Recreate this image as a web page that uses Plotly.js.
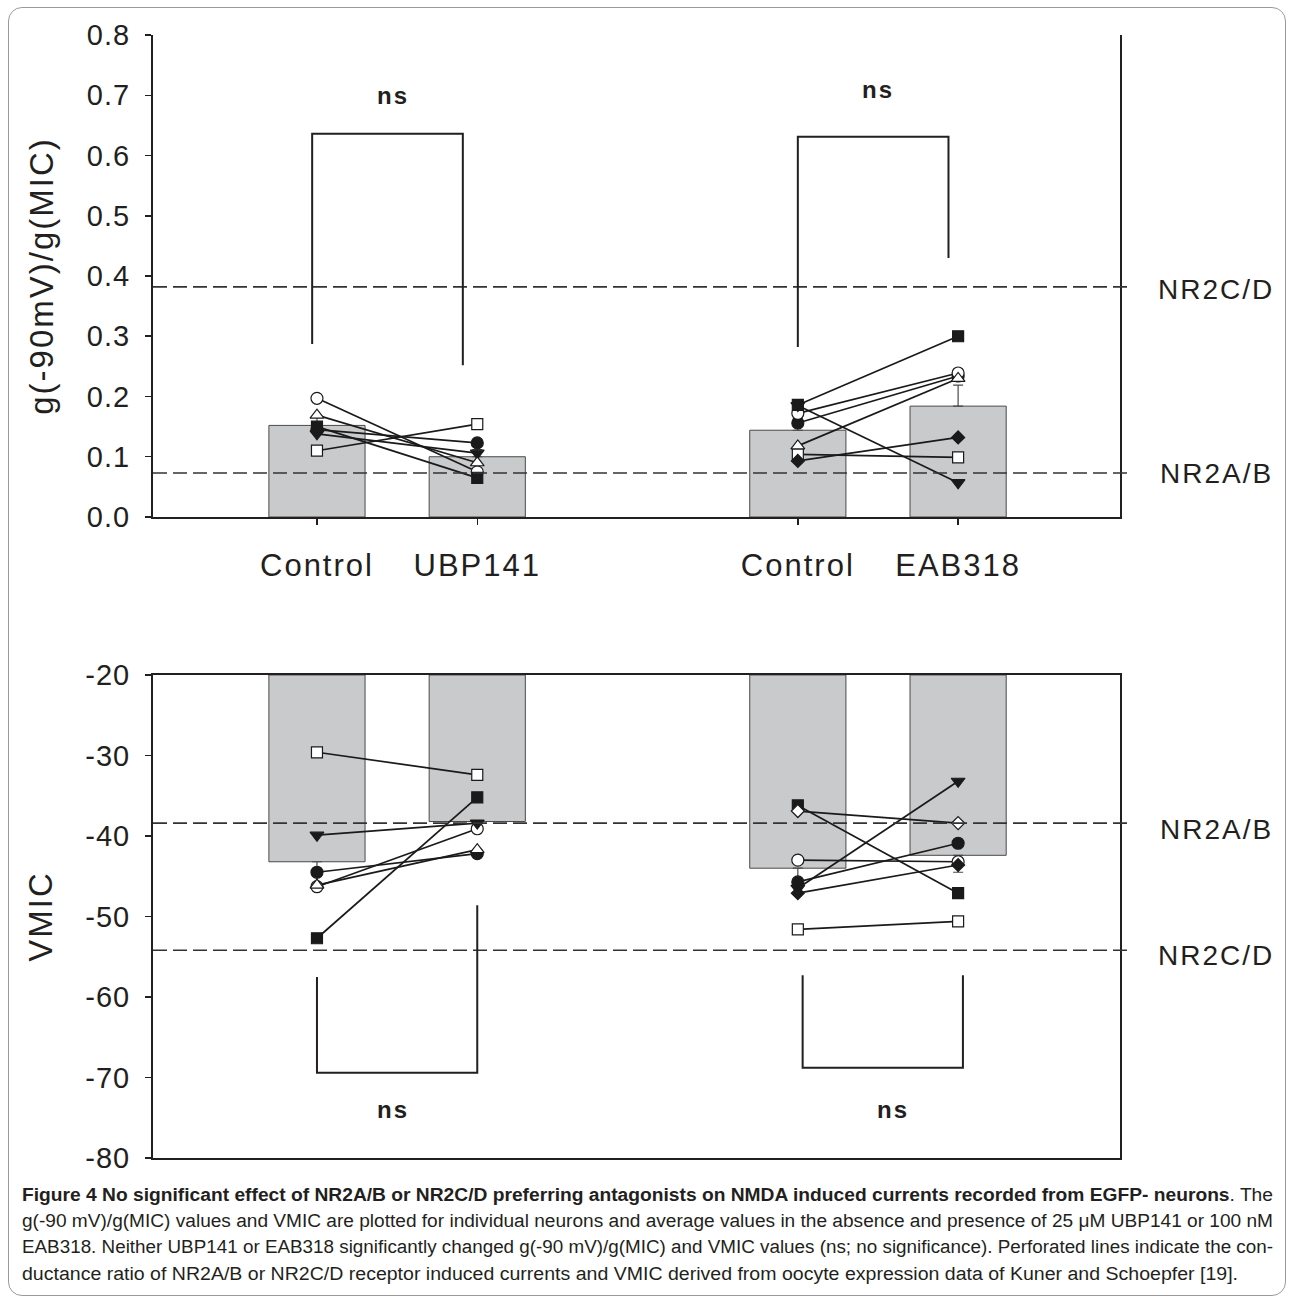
<!DOCTYPE html>
<html>
<head>
<meta charset="utf-8">
<script src="https://cdn.plot.ly/plotly-3.0.1.min.js"></script>
<style>
html,body{margin:0;padding:0;background:#ffffff;}
#chart{position:absolute;left:0;top:0;width:1292px;height:1303px;}
#frame{position:absolute;left:8px;top:7px;width:1278px;height:1289px;border:1.5px solid #9a9a9a;border-radius:14px;box-sizing:border-box;pointer-events:none;z-index:5;}
.cap{position:absolute;left:22px;white-space:nowrap;font-family:"Liberation Sans Narrow","Liberation Sans",Arial,sans-serif;font-size:18px;line-height:20px;color:#231f20;transform-origin:0 50%;}
#chart .xtick text{letter-spacing:2px;}
#chart .ytick text,#chart .y2tick text{letter-spacing:1px;}
#chart text.ytitle,#chart text.y2title{letter-spacing:2px;}
#chart .annotation-text{letter-spacing:2px;}
</style>
</head>
<body>
<div id="chart"></div>
<div id="frame"></div>
<script>
// ---------- data ----------
const xPos = [1, 2, 4, 5];
const groupLabels = ['Control', 'UBP141', 'Control', 'EAB318'];

// axis ticks
const gTickVals = [0, 0.1, 0.2, 0.3, 0.4, 0.5, 0.6, 0.7, 0.8];
const gTickText = ['0.0', '0.1', '0.2', '0.3', '0.4', '0.5', '0.6', '0.7', '0.8'];
const vTickVals = [-80, -70, -60, -50, -40, -30, -20];
const vTickText = ['-80', '-70', '-60', '-50', '-40', '-30', '-20'];

// mean bars
const gMeans = [0.152, 0.100, 0.144, 0.184];
const gErrUp = [0.015, 0.012, 0.020, 0.035];
const vMeans = [-43.2, -38.2, -44.0, -42.4];
const vErrDown = [3.0, 1.0, 2.0, 2.1];
const vBarBase = -20;

// reference levels (oocyte data)
const gRefLevels = [0.073, 0.382];
const gRefNames = ['NR2A/B', 'NR2C/D'];
const gRefLabelY = [0.073, 0.377];
const vRefLevels = [-38.4, -54.2];
const vRefNames = ['NR2A/B', 'NR2C/D'];
const vRefLabelY = [-39.2, -54.8];

// individual neurons, UBP141 experiment (Control -> UBP141), g(-90mV)/g(MIC)
const gUbpSymbols = ['circle', 'circle', 'triangle-down', 'square', 'triangle-up', 'square'];
const gUbpFilled  = [false, true, true, true, false, false];
const gUbpControl = [0.197, 0.145, 0.138, 0.150, 0.169, 0.110];
const gUbpDrug    = [0.075, 0.123, 0.106, 0.065, 0.090, 0.154];

// individual neurons, EAB318 experiment (Control -> EAB318), g(-90mV)/g(MIC)
const gEabSymbols = ['circle', 'circle', 'triangle-down', 'square', 'square', 'triangle-up', 'diamond'];
const gEabFilled  = [true, false, true, true, false, false, true];
const gEabControl = [0.156, 0.172, 0.185, 0.186, 0.104, 0.118, 0.093];
const gEabDrug    = [0.234, 0.239, 0.057, 0.300, 0.099, 0.230, 0.132];

// individual neurons, UBP141 experiment, VMIC
const vUbpSymbols = ['circle', 'triangle-down', 'circle', 'triangle-up', 'square', 'square'];
const vUbpFilled  = [false, true, true, false, false, true];
const vUbpControl = [-46.3, -39.9, -44.5, -46.1, -29.6, -52.7];
const vUbpDrug    = [-39.1, -38.4, -42.2, -41.7, -32.4, -35.2];

// individual neurons, EAB318 experiment, VMIC
const vEabSymbols = ['square', 'diamond', 'circle', 'circle', 'triangle-down', 'diamond', 'square'];
const vEabFilled  = [true, false, false, true, true, true, false];
const vEabControl = [-36.2, -36.9, -43.0, -45.7, -46.5, -47.1, -51.6];
const vEabDrug    = [-47.1, -38.4, -43.2, -40.9, -33.2, -43.6, -50.6];

// significance brackets: [xLeft, xRight, yLeftEnd, yRightEnd, yBar]
const gBrackets = [[0.97, 1.91, 0.287, 0.252, 0.636], [4.0, 4.94, 0.282, 0.430, 0.631]];
const vBrackets = [[1.0, 2.0, -57.5, -48.6, -69.4], [4.03, 5.03, -57.3, -57.3, -68.8]];
const gSigText = [[1.474, 0.700, 'ns'], [4.50, 0.709, 'ns']];
const vSigText = [[1.474, -74.0, 'ns'], [4.594, -74.0, 'ns']];

// ---------- build ----------
const INK = '#231f20';
const traces = [];
const shapes = [];
const annotations = [];

function markerSize(sym) {
  if (sym === 'square') return 11;
  if (sym === 'circle') return 12;
  if (sym === 'diamond') return 10;
  return 12;
}

// bars
traces.push({type: 'bar', x: xPos, y: gMeans, width: 0.6, xaxis: 'x', yaxis: 'y',
  marker: {color: '#c9cacc', line: {color: '#4a4a4a', width: 1}}, hoverinfo: 'skip', showlegend: false});
traces.push({type: 'bar', x: xPos, y: vMeans.map(v => v - vBarBase), base: vBarBase, width: 0.6, xaxis: 'x2', yaxis: 'y2',
  marker: {color: '#c9cacc', line: {color: '#4a4a4a', width: 1}}, hoverinfo: 'skip', showlegend: false});

// error bars
traces.push({type: 'scatter', mode: 'markers', x: xPos, y: gMeans, xaxis: 'x', yaxis: 'y',
  marker: {opacity: 0, size: 1},
  error_y: {type: 'data', symmetric: false, array: gErrUp, arrayminus: gErrUp.map(() => 0), color: '#4a4a4a', thickness: 1.2, width: 5},
  hoverinfo: 'skip', showlegend: false});
traces.push({type: 'scatter', mode: 'markers', x: xPos, y: vMeans, xaxis: 'x2', yaxis: 'y2',
  marker: {opacity: 0, size: 1},
  error_y: {type: 'data', symmetric: false, array: vErrDown.map(() => 0), arrayminus: vErrDown, color: '#4a4a4a', thickness: 1.2, width: 5},
  hoverinfo: 'skip', showlegend: false});

function addCells(xs, syms, fills, ctrl, drug, xa, ya) {
  for (let i = 0; i < ctrl.length; i++) {
    traces.push({type: 'scatter', mode: 'lines', x: xs, y: [ctrl[i], drug[i]], xaxis: xa, yaxis: ya,
      line: {color: '#1a1a1a', width: 1.7}, hoverinfo: 'skip', showlegend: false});
  }
  for (let i = 0; i < ctrl.length; i++) {
    traces.push({type: 'scatter', mode: 'markers', x: xs, y: [ctrl[i], drug[i]], xaxis: xa, yaxis: ya,
      marker: {symbol: syms[i], size: markerSize(syms[i]), color: fills[i] ? '#1a1a1a' : '#ffffff',
        line: {color: '#1a1a1a', width: 1.2}},
      hoverinfo: 'skip', showlegend: false});
  }
}
addCells([xPos[0], xPos[1]], gUbpSymbols, gUbpFilled, gUbpControl, gUbpDrug, 'x', 'y');
addCells([xPos[2], xPos[3]], gEabSymbols, gEabFilled, gEabControl, gEabDrug, 'x', 'y');
addCells([xPos[0], xPos[1]], vUbpSymbols, vUbpFilled, vUbpControl, vUbpDrug, 'x2', 'y2');
addCells([xPos[2], xPos[3]], vEabSymbols, vEabFilled, vEabControl, vEabDrug, 'x2', 'y2');

// reference dashed lines + labels
function addRefs(levels, names, labelY, xa, ya) {
  for (let i = 0; i < levels.length; i++) {
    shapes.push({type: 'line', xref: xa + ' domain', yref: ya, x0: 0, x1: 1.008, y0: levels[i], y1: levels[i],
      line: {color: '#333333', width: 1.6, dash: '14px,6px'}});
    annotations.push({xref: 'paper', yref: ya, x: 1.0995, y: labelY[i], text: names[i], showarrow: false,
      xanchor: 'center', yanchor: 'middle', font: {family: 'Liberation Sans, Arial, sans-serif', size: 28, color: INK}});
  }
}
addRefs(gRefLevels, gRefNames, gRefLabelY, 'x', 'y');
addRefs(vRefLevels, vRefNames, vRefLabelY, 'x2', 'y2');

// brackets
function addBrackets(list, texts, xa, ya) {
  list.forEach(b => {
    shapes.push({type: 'path', xref: xa, yref: ya,
      path: 'M' + b[0] + ',' + b[2] + ' L' + b[0] + ',' + b[4] + ' L' + b[1] + ',' + b[4] + ' L' + b[1] + ',' + b[3],
      line: {color: INK, width: 2}});
  });
  texts.forEach(t => {
    annotations.push({xref: xa, yref: ya, x: t[0], y: t[1], text: '<b>' + t[2] + '</b>', showarrow: false,
      xanchor: 'center', yanchor: 'middle', font: {family: 'Liberation Sans, Arial, sans-serif', size: 24, color: INK}});
  });
}
addBrackets(gBrackets, gSigText, 'x', 'y');
addBrackets(vBrackets, vSigText, 'x2', 'y2');

const tickFont = {family: 'Liberation Sans, Arial, sans-serif', size: 29, color: INK};
const titleFont = {family: 'Liberation Sans, Arial, sans-serif', size: 33, color: INK};

const layout = {
  width: 1292, height: 1303,
  margin: {l: 153, r: 172, t: 35, b: 145, pad: 0},
  paper_bgcolor: 'rgba(0,0,0,0)', plot_bgcolor: 'rgba(0,0,0,0)',
  showlegend: false,
  barmode: 'overlay',
  xaxis: {domain: [0, 1], anchor: 'y', range: [-0.023, 6.01], tickmode: 'array', tickvals: xPos, ticktext: groupLabels,
    ticks: 'outside', ticklen: 6, tickwidth: 1.5, tickcolor: INK, showline: true, linecolor: INK, linewidth: 2,
    mirror: false, showgrid: false, zeroline: false, tickfont: {family: 'Liberation Sans, Arial, sans-serif', size: 31, color: INK},
    ticklabelstandoff: 14},
  yaxis: {domain: [0.5708, 1], anchor: 'x', range: [0, 0.8], tickmode: 'array', tickvals: gTickVals, ticktext: gTickText,
    ticks: 'outside', ticklen: 6, tickwidth: 1.5, tickcolor: INK, showline: true, linecolor: INK, linewidth: 2,
    mirror: true, showgrid: false, zeroline: false, tickfont: tickFont, ticklabelstandoff: 9,
    title: {text: 'g(-90mV)/g(MIC)', font: titleFont, standoff: 26}},
  yaxis3: {overlaying: 'y', anchor: 'x', side: 'right', range: [0, 0.8], tickmode: 'array', tickvals: [0.2, 0.4, 0.6],
    ticks: 'inside', ticklen: 4, tickwidth: 1, tickcolor: '#999999', showticklabels: false, showline: false,
    showgrid: false, zeroline: false},
  xaxis2: {domain: [0, 1], anchor: 'y2', range: [-0.023, 6.01], ticks: '', showticklabels: false,
    showline: true, linecolor: INK, linewidth: 2, mirror: true, showgrid: false, zeroline: false},
  yaxis2: {domain: [0, 0.4301], anchor: 'x2', range: [-80, -20], tickmode: 'array', tickvals: vTickVals, ticktext: vTickText,
    ticks: 'outside', ticklen: 6, tickwidth: 1.5, tickcolor: INK, showline: true, linecolor: INK, linewidth: 2,
    mirror: true, showgrid: false, zeroline: false, tickfont: tickFont, ticklabelstandoff: 9,
    title: {text: 'VMIC', font: titleFont, standoff: 26}},
  yaxis4: {overlaying: 'y2', anchor: 'x2', side: 'right', range: [-80, -20], tickmode: 'array', tickvals: [-30, -50, -70],
    ticks: 'inside', ticklen: 4, tickwidth: 1, tickcolor: '#999999', showticklabels: false, showline: false,
    showgrid: false, zeroline: false},
  shapes: shapes,
  annotations: annotations
};

Plotly.newPlot('chart', traces, layout, {staticPlot: true, displayModeBar: false});

// ---------- caption ----------
const captionLines = [
  '<b>Figure 4 No significant effect of NR2A/B or NR2C/D preferring antagonists on NMDA induced currents recorded from EGFP- neurons</b>. The',
  'g(-90 mV)/g(MIC) values and VMIC are plotted for individual neurons and average values in the absence and presence of 25 μM UBP141 or 100 nM',
  'EAB318. Neither UBP141 or EAB318 significantly changed g(-90 mV)/g(MIC) and VMIC values (ns; no significance). Perforated lines indicate the con-',
  'ductance ratio of NR2A/B or NR2C/D receptor induced currents and VMIC derived from oocyte expression data of Kuner and Schoepfer [19].'
];
const captionCenters = [1195, 1221, 1247, 1274];
const captionWidths = [1251, 1251, 1251, 1216];
captionLines.forEach((t, i) => {
  const d = document.createElement('div');
  d.className = 'cap';
  d.innerHTML = t;
  d.style.top = (captionCenters[i] - 10) + 'px';
  document.body.appendChild(d);
  const w = d.getBoundingClientRect().width;
  d.style.transform = 'scaleX(' + (captionWidths[i] / w) + ')';
});
</script>
</body>
</html>
